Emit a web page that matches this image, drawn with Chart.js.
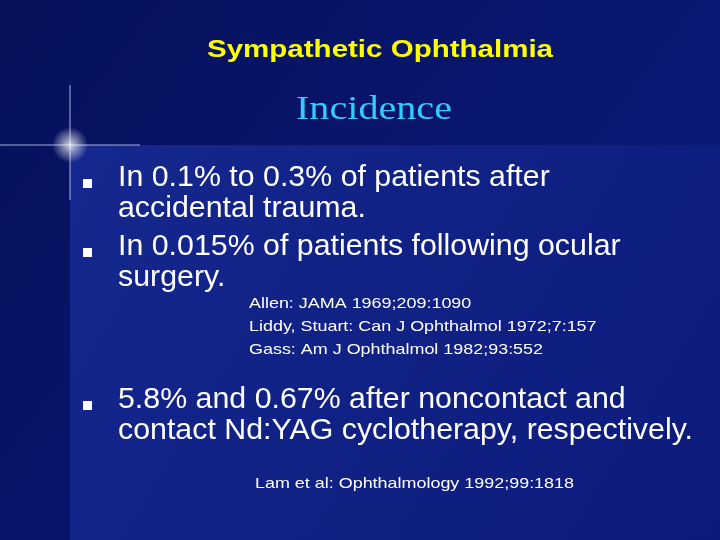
<!DOCTYPE html>
<html>
<head>
<meta charset="utf-8">
<script src="https://cdn.jsdelivr.net/npm/chart.js@4/dist/chart.umd.min.js"></script>
<style>
  html, body { margin: 0; padding: 0; background: #0a1670; }
  #wrap { width: 720px; height: 540px; }
</style>
</head>
<body>
<div id="wrap"><canvas id="slide" width="720" height="540"></canvas></div>
<script>
const title = 'Sympathetic Ophthalmia';
const subtitle = 'Incidence';
const bulletLines = [
    ['In 0.1% to 0.3% of patients after', 'accidental trauma.'],
    ['In 0.015% of patients following ocular', 'surgery.'],
    ['5.8% and 0.67% after noncontact and', 'contact Nd:YAG cyclotherapy, respectively.']
];
const bulletY = [178, 247, 400];
const refs1 = ['Allen: JAMA 1969;209:1090', 'Liddy, Stuart: Can J Ophthalmol 1972;7:157', 'Gass: Am J Ophthalmol 1982;93:552'];
const refs2 = ['Lam et al: Ophthalmology 1992;99:1818'];

// text with horizontal stretch (the slide was widened)
function stretchText(ctx, t, x, y, sx) {
    ctx.save();
    ctx.translate(x, y);
    ctx.scale(sx, 1);
    ctx.fillText(t, 0, 0);
    ctx.restore();
}

const slidePlugin = {
    id: 'slide',
    beforeDraw(chart) {
        const ctx = chart.ctx;
        let g = ctx.createLinearGradient(0, 0, 720, 540);
        g.addColorStop(0, '#06105a');
        g.addColorStop(1, '#0c1c80');
        ctx.fillStyle = g;
        ctx.fillRect(0, 0, 720, 540);
        g = ctx.createLinearGradient(70, 145, 720, 540);
        g.addColorStop(0, '#15288f');
        g.addColorStop(1, '#0c1a7a');
        ctx.fillStyle = g;
        ctx.fillRect(70, 145, 650, 395);
        ctx.strokeStyle = 'rgba(200,220,255,0.8)';
        ctx.lineWidth = 1;
        ctx.beginPath();
        ctx.moveTo(0, 145); ctx.lineTo(140, 145);
        ctx.moveTo(70, 85); ctx.lineTo(70, 200);
        ctx.stroke();
        const rg = ctx.createRadialGradient(70, 145, 0, 70, 145, 18);
        rg.addColorStop(0, 'rgba(255,255,255,0.8)');
        rg.addColorStop(1, 'rgba(255,255,255,0)');
        ctx.fillStyle = rg;
        ctx.fillRect(50, 125, 40, 40);
    },
    afterDraw(chart) {
        const ctx = chart.ctx;
        ctx.textBaseline = 'middle';
        ctx.textAlign = 'left';

        ctx.fillStyle = '#ffff00';
        ctx.font = 'bold 24px "Liberation Sans", Arial';
        let w = ctx.measureText(title).width;
        let sx = 346 / w;
        stretchText(ctx, title, 380 - 173, 50, sx);

        ctx.fillStyle = '#33ccff';
        ctx.font = '34px "Liberation Serif", "Times New Roman"';
        w = ctx.measureText(subtitle).width;
        sx = 156 / w;
        stretchText(ctx, subtitle, 296, 110, sx);

        ctx.font = '29px "Liberation Sans", Arial';
        sx = 575 / ctx.measureText(bulletLines[2][1]).width;
        bulletLines.forEach((lines, i) => {
            ctx.fillStyle = '#ffffff';
            ctx.fillRect(83, bulletY[i] + 1, 9, 9);
            lines.forEach((t, j) => stretchText(ctx, t, 118, bulletY[i] + j * 31, sx));
        });

        ctx.font = '15px "Liberation Sans", Arial';
        sx = 319 / ctx.measureText(refs2[0]).width;
        refs1.forEach((t, j) => stretchText(ctx, t, 249, 304 + j * 23, sx));
        refs2.forEach((t, j) => stretchText(ctx, t, 255, 484 + j * 23, sx));
    }
};

const chart = new Chart(document.getElementById('slide'), {
    type: 'bar',
    data: { labels: [], datasets: [] },
    options: {
        responsive: false,
        animation: false,
        plugins: { legend: { display: false }, tooltip: { enabled: false } },
        scales: { x: { display: false }, y: { display: false } }
    },
    plugins: [slidePlugin]
});
</script>
</body>
</html>
